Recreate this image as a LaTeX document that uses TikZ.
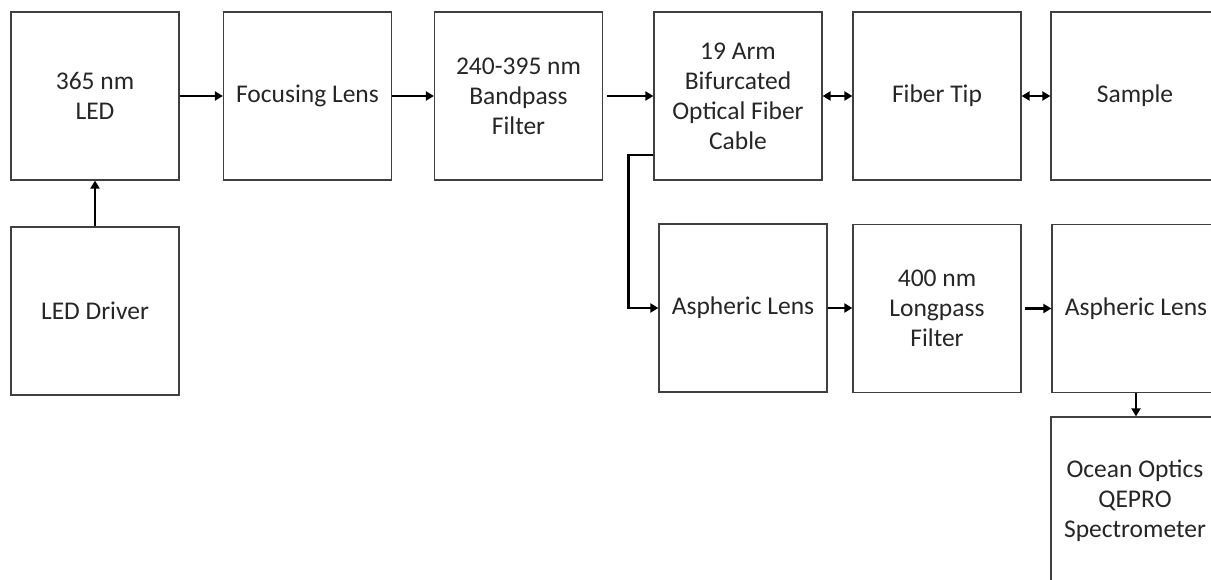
\documentclass[tikz,border=0pt]{standalone}
\usepackage{fontspec}
\setmainfont{Carlito}
\usetikzlibrary{arrows.meta,calc}
\definecolor{boxline}{HTML}{404040}
\definecolor{txt}{HTML}{262626}
\tikzset{
  blk/.style={draw=boxline, line width=1.2pt, minimum width=168pt, minimum height=168pt,
    inner sep=0pt, align=center, text=txt, font=\fontsize{25.5}{30}\selectfont},
  conn/.style={line width=2.8pt, -{Triangle[length=8pt,width=9pt]}},
  bconn/.style={line width=2.8pt, {Triangle[length=8pt,width=9pt]}-{Triangle[length=8pt,width=9pt]}}
}
\begin{document}
\begin{tikzpicture}[x=1pt,y=-1pt]
\useasboundingbox (0,0) rectangle (1211,580);
\clip (0,0) rectangle (1211,580);
\node[blk] (led) at (95,96) {365 nm\\LED};
\node[blk] (focus) at (307.5,96) {Focusing Lens};
\node[blk] (band) at (518.5,96) {240-395 nm\\Bandpass\\Filter};
\node[blk] (fiber) at (738,96) {19 Arm\\Bifurcated\\Optical Fiber\\Cable};
\node[blk] (tip) at (937,96) {Fiber Tip};
\node[blk] (sample) at (1135,96) {Sample};
\node[blk] (driver) at (95,311) {LED Driver};
\node[blk] (asph1) at (743,308) {Aspheric Lens};
\node[blk] (longp) at (937,308.5) {400 nm\\Longpass\\Filter};
\node[blk] (asph2) at (1136,308.5) {Aspheric Lens};
\node[blk] (ocean) at (1135,501) {Ocean Optics\\QEPRO\\Spectrometer};
\coordinate (tap) at ([yshift=-59pt]fiber.west);
\draw[conn] (led.east) -- (focus.west);
\draw[conn] (focus.east) -- (band.west);
\draw[conn, shorten <=4pt] (band.east) -- (fiber.west);
\draw[bconn] (fiber.east) -- (tip.west);
\draw[bconn] (tip.east) -- (sample.west);
\draw[conn] (driver.north) -- (led.south);
\draw[conn] (tap) -- ++(-25,0) |- (asph1.west);
\draw[conn] (asph1.east) -- (asph1.east -| longp.west);
\draw[conn, shorten <=3pt] (longp.east) -- (longp.east -| asph2.west);
\draw[conn] (asph2.south) -- (asph2.south |- ocean.north);
\end{tikzpicture}
\end{document}
